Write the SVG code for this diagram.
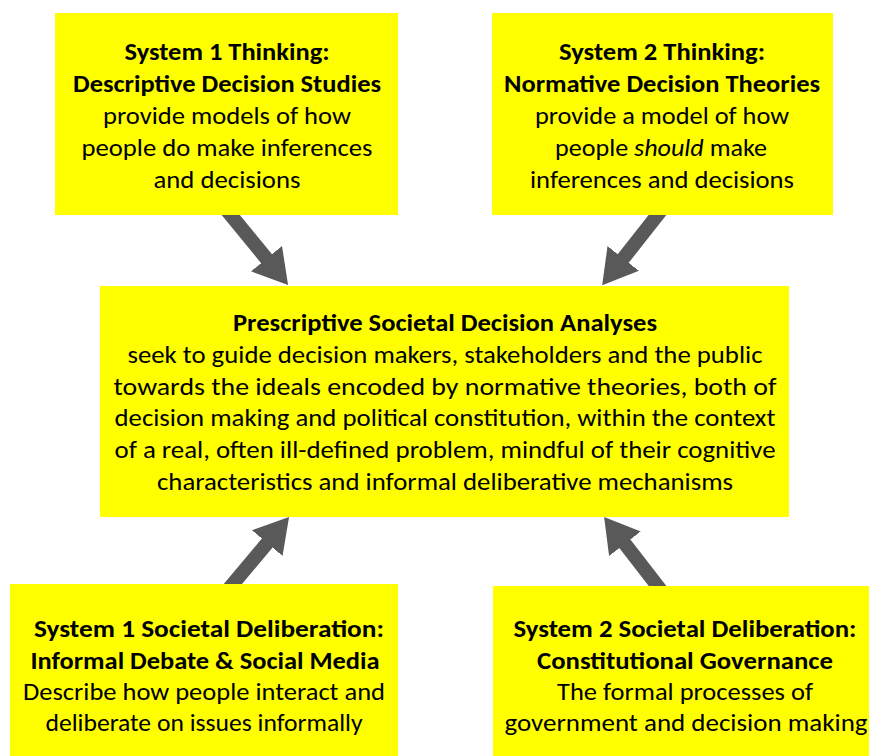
<svg xmlns="http://www.w3.org/2000/svg" width="869" height="756" viewBox="0 0 869 756">
<style>
.box{fill:#FFFF00;}
text{font-family:Carlito,Lato,"Liberation Sans",sans-serif;font-size:24px;fill:#000;text-anchor:middle;}
.b{font-weight:bold;}
.arr{stroke:#595959;stroke-width:14;fill:none;marker-end:url(#head);}
</style>
<defs>
<marker id="head" markerUnits="userSpaceOnUse" markerWidth="34" markerHeight="40" viewBox="0 -20 34 40" refX="2" refY="0" orient="auto">
<path d="M0,-20 L34,0 L0,20 z" fill="#595959"/>
</marker>
</defs>
<rect width="869" height="756" fill="#fff"/>
<g id="connectors">
<line class="arr" x1="225" y1="208" x2="267.8" y2="260.2"/>
<line class="arr" x1="663" y1="208" x2="622" y2="260"/>
<line class="arr" x1="227" y1="591" x2="268.5" y2="541.5"/>
<line class="arr" x1="663" y1="593" x2="623.7" y2="542.2"/>
</g>
<g id="system1-thinking">
<rect class="box" x="55" y="13" width="343" height="202"/>
<text class="b" x="227" y="60" textLength="205" lengthAdjust="spacingAndGlyphs">System 1 Thinking:</text>
<text class="b" x="227" y="92" textLength="308" lengthAdjust="spacingAndGlyphs">Descriptive Decision Studies</text>
<text x="227" y="124" textLength="248" lengthAdjust="spacingAndGlyphs">provide models of how</text>
<text x="227" y="156" textLength="291" lengthAdjust="spacingAndGlyphs">people do make inferences</text>
<text x="227" y="188" textLength="147" lengthAdjust="spacingAndGlyphs">and decisions</text>
</g>
<g id="system2-thinking">
<rect class="box" x="492" y="13" width="341" height="202"/>
<text class="b" x="662" y="60" textLength="206" lengthAdjust="spacingAndGlyphs">System 2 Thinking:</text>
<text class="b" x="662" y="92" textLength="316" lengthAdjust="spacingAndGlyphs">Normative Decision Theories</text>
<text x="662" y="124" textLength="254" lengthAdjust="spacingAndGlyphs">provide a model of how</text>
<text x="661" y="156" textLength="212" lengthAdjust="spacingAndGlyphs">people <tspan font-style="italic">should</tspan> make</text>
<text x="662" y="188" textLength="264" lengthAdjust="spacingAndGlyphs">inferences and decisions</text>
</g>
<g id="prescriptive">
<rect class="box" x="100" y="286" width="689" height="231"/>
<text class="b" x="445" y="331" textLength="424" lengthAdjust="spacingAndGlyphs">Prescriptive Societal Decision Analyses</text>
<text x="445" y="363" textLength="635" lengthAdjust="spacingAndGlyphs">seek to guide decision makers, stakeholders and the public</text>
<text x="445" y="395" textLength="663" lengthAdjust="spacingAndGlyphs">towards the ideals encoded by normative theories, both of</text>
<text x="445" y="426" textLength="661" lengthAdjust="spacingAndGlyphs">decision making and political constitution, within the context</text>
<text x="445" y="458" textLength="661" lengthAdjust="spacingAndGlyphs">of a real, often ill-defined problem, mindful of their cognitive</text>
<text x="445" y="490" textLength="576" lengthAdjust="spacingAndGlyphs">characteristics and informal deliberative mechanisms</text>
</g>
<g id="system1-deliberation">
<rect class="box" x="10" y="584" width="388" height="172"/>
<text class="b" x="209" y="637" textLength="350" lengthAdjust="spacingAndGlyphs">System 1 Societal Deliberation:</text>
<text class="b" x="205" y="669" textLength="349" lengthAdjust="spacingAndGlyphs">Informal Debate &amp; Social Media</text>
<text x="204" y="700" textLength="362" lengthAdjust="spacingAndGlyphs">Describe how people interact and</text>
<text x="204" y="731" textLength="317" lengthAdjust="spacingAndGlyphs">deliberate on issues informally</text>
</g>
<g id="system2-deliberation">
<rect class="box" x="493" y="586" width="376" height="170"/>
<text class="b" x="685" y="637" textLength="343" lengthAdjust="spacingAndGlyphs">System 2 Societal Deliberation:</text>
<text class="b" x="685" y="669" textLength="296" lengthAdjust="spacingAndGlyphs">Constitutional Governance</text>
<text x="685" y="700" textLength="256" lengthAdjust="spacingAndGlyphs">The formal processes of</text>
<text x="686" y="731" textLength="363" lengthAdjust="spacingAndGlyphs">government and decision making</text>
</g>
</svg>
